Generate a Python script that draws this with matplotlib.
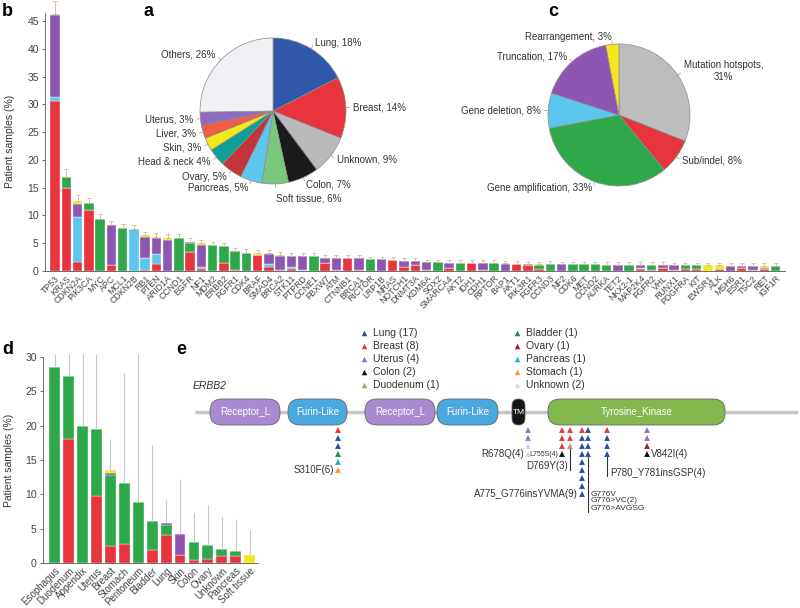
import numpy as np
import matplotlib.pyplot as plt
from matplotlib.patches import FancyBboxPatch

plt.rcParams['font.family'] = ['Liberation Sans', 'DejaVu Sans']

RED = '#e8343d'
CYAN = '#5cc6ee'
GREEN = '#2fa84a'
PURPLE = '#8e56b2'
YELLOW = '#f3e81c'
TEXT = '#333333'

# ---- panel a: tumour sites
site_labels = ['Lung, 18%', 'Breast, 14%', 'Unknown, 9%', 'Colon, 7%', 'Soft tissue, 6%',
               'Pancreas, 5%', 'Ovary, 5%', 'Head & neck 4%', 'Skin, 3%', 'Liver, 3%',
               'Uterus, 3%', 'Others, 26%']
site_share = [18, 14, 9, 7, 6, 5, 5, 4, 3, 3, 3, 26]
site_colors = ['#2f58a8', '#e8343d', '#b9b9b9', '#1b1b1b', '#7cc77c', '#5cc6ee',
               '#c1353b', '#0e9f98', '#f3e81c', '#f45b45', '#8e6cc0', '#f0f0f4']
site_label_dist = [1.1, 1.1, 1.1, 1.1, 1.2, 1.1, 1.1, 1.1, 1.1, 1.1, 1.1, 1.1]

# ---- panel c: alteration types
alt_labels = ['Mutation hotspots,\n31%', 'Sub/indel, 8%', 'Gene amplification, 33%',
              'Gene deletion, 8%', 'Truncation, 17%', 'Rearrangement, 3%']
alt_share = [31, 8, 33, 8, 17, 3]
alt_colors = ['#bdbdbd', RED, GREEN, CYAN, PURPLE, YELLOW]
alt_label_dist = [1.1, 1.1, 1.1, 1.1, 1.1, 1.1]

# ---- panel b: genes
genes = ['TP53', 'KRAS', 'CDKN2A', 'PIK3CA', 'MYC', 'APC', 'MCL1', 'CDKN2B', 'RB1', 'PTEN',
         'ARID1A', 'CCND1', 'EGFR', 'NF1', 'MDM2', 'ERBB2', 'FGFR1', 'CDK4', 'BRAF', 'SMAD4',
         'BRCA2', 'STK11', 'PTPRD', 'CCNE1', 'FBXW7', 'ATM', 'CTNNB1', 'BRCA1', 'RICTOR', 'LRP1B',
         'NRAS', 'NOTCH1', 'DNMT3A', 'KDM6A', 'SOX2', 'SMARCA4', 'AKT2', 'IDH1', 'CDH1', 'RPTOR',
         'BAP1', 'AKT1', 'PIK3R1', 'FGFR3', 'CCND3', 'NF2', 'CDK6', 'MET', 'CCND2', 'AURKA',
         'TET2', 'NKX2-1', 'MAP2K4', 'FGFR2', 'VHL', 'RUNX1', 'PDGFRA', 'KIT', 'EWSR1', 'ALK',
         'MSH6', 'ESR1', 'TSC2', 'RET', 'IGF1R']
b_red = [30.6, 15.0, 1.7, 11.0, 0, 1.0, 0, 0, 0.1, 1.2,
         0, 0, 3.4, 0.4, 0, 1.5, 0.15, 0, 2.9, 0.7,
         0.2, 0.4, 0, 0, 1.5, 0.2, 2.3, 0.1, 0, 0,
         2.0, 0.8, 1.1, 0.1, 0, 0.5, 0, 1.4, 0.1, 0,
         0, 1.25, 1.0, 0.3, 0, 0, 0, 0.05, 0, 0,
         0, 0, 0.3, 0.1, 0.6, 0.1, 0.4, 0.4, 0, 0.3,
         0, 0.6, 0.1, 0.4, 0]
b_cyan = [0.7, 0, 8.0, 0, 0, 0, 0, 7.5, 2.2, 1.9,
          0, 0, 0, 0.4, 0, 0, 0, 0, 0, 0.6,
          0, 0.4, 0.2, 0, 0, 0, 0, 0, 0, 0,
          0, 0, 0, 0, 0, 0, 0, 0, 0, 0,
          0, 0, 0, 0, 0, 0, 0, 0, 0, 0,
          0, 0, 0.2, 0, 0, 0, 0, 0, 0, 0,
          0, 0, 0, 0, 0]
b_green = [0, 2.0, 0, 1.2, 9.4, 0, 7.7, 0, 0, 0,
           0, 5.9, 1.6, 0, 4.6, 3.0, 3.45, 3.3, 0, 0,
           0, 0, 0, 2.7, 0, 0, 0, 0, 2.1, 0,
           0, 0, 0, 0, 1.55, 0, 1.4, 0, 0, 1.4,
           0, 0, 0, 0.8, 1.25, 0, 1.2, 1.15, 1.2, 1.15,
           0, 1.15, 0, 1.0, 0, 0, 0.6, 0.6, 0, 0,
           0, 0, 0, 0, 0.9]
b_purple = [14.7, 0, 2.3, 0, 0, 7.2, 0, 0, 3.8, 2.8,
            5.6, 0, 0.3, 3.9, 0, 0, 0, 0, 0, 1.8,
            2.5, 1.9, 2.5, 0, 0.9, 2.2, 0, 2.2, 0, 2.1,
            0, 1.0, 0.7, 1.45, 0, 0.9, 0, 0, 1.3, 0,
            1.2, 0, 0.2, 0, 0, 1.2, 0, 0, 0, 0,
            1.15, 0, 0.5, 0, 0.5, 0.9, 0, 0, 0, 0,
            0.95, 0.3, 0.8, 0.1, 0]
b_yellow = [0.3, 0, 0.6, 0, 0, 0, 0, 0, 0.3, 0.2,
            0.3, 0, 0, 0.3, 0, 0, 0, 0, 0.3, 0.1,
            0.2, 0, 0, 0, 0, 0, 0, 0, 0, 0,
            0, 0, 0, 0, 0, 0, 0, 0, 0, 0,
            0.15, 0, 0, 0.1, 0, 0, 0, 0, 0, 0,
            0, 0, 0.1, 0, 0, 0, 0, 0, 1.0, 0.7,
            0, 0, 0, 0.4, 0]
b_err = [2.2, 1.3, 1.1, 1.0, 0.9, 0.8, 0.8, 0.7, 0.7, 0.7,
         0.7, 0.7, 0.7, 0.6, 0.6, 0.6, 0.6, 0.6, 0.6, 0.6,
         0.6, 0.6, 0.6, 0.6, 0.5, 0.5, 0.5, 0.5, 0.5, 0.5,
         0.5, 0.5, 0.5, 0.5, 0.5, 0.5, 0.5, 0.5, 0.5, 0.5,
         0.5, 0.5, 0.5, 0.5, 0.5, 0.5, 0.5, 0.5, 0.5, 0.5,
         0.5, 0.5, 0.5, 0.5, 0.5, 0.5, 0.5, 0.5, 0.5, 0.5,
         0.5, 0.5, 0.5, 0.5, 0.5]

# ---- panel d: ERBB2 alterations by site
d_sites = ['Esophagus', 'Duodenum', 'Appendix', 'Uterus', 'Breast', 'Stomach', 'Peritoneum',
           'Bladder', 'Lung', 'Skin', 'Colon', 'Ovary', 'Unknown', 'Pancreas', 'Soft tissue']
d_red = [0, 18.0, 0, 9.7, 2.5, 2.8, 0, 1.85, 4.1, 1.2, 0.5, 0.6, 1.0, 1.0, 0]
d_green = [28.6, 9.3, 19.9, 9.75, 10.3, 8.8, 8.95, 4.2, 1.45, 0, 2.5, 2.0, 1.1, 0.7, 0]
d_purple = [0, 0, 0, 0, 0.3, 0, 0, 0, 0.25, 3.0, 0, 0, 0, 0, 0]
d_yellow = [0, 0, 0, 0, 0.4, 0, 0, 0, 0, 0, 0, 0, 0, 0, 1.1]
d_upper = [30.4, 30.4, 30.4, 30.4, 18.1, 27.6, 30.4, 17.2, 9.2, 12.2, 7.3, 8.4, 6.7, 6.4, 4.8]

# ---- panel e: ERBB2 protein map (diagram units)
tissues = ['Lung', 'Breast', 'Uterus', 'Colon', 'Duodenum',
           'Bladder', 'Ovary', 'Pancreas', 'Stomach', 'Unknown']
tissue_counts = [17, 8, 4, 2, 1, 1, 1, 1, 1, 2]
tissue_colors = ['#2b4fa6', '#e8343d', '#9b72c8', '#111111', '#b79d6c',
                 '#1f8a4c', '#a3202a', '#1bb3c9', '#f49a42', '#c9dcf0']
dom_names = ['Receptor_L', 'Furin-Like', 'Receptor_L', 'Furin-Like', 'TM', 'Tyrosine_Kinase']
dom_start = [210, 288, 365, 437, 512, 548]
dom_end = [280, 347, 435, 498, 525, 725]
dom_colors = ['#a88bd0', '#4aa8e0', '#a88bd0', '#4aa8e0', '#151515', '#85b84e']
prot_span = [195, 798]
mut_pos = [338, 528, 562, 570, 582, 588, 607, 647]
mut_hits = [['Breast', 'Lung', 'Lung', 'Bladder', 'Pancreas', 'Stomach'],
            ['Uterus', 'Uterus', 'Unknown', 'Unknown'],
            ['Breast', 'Breast', 'Breast', 'Colon'],
            ['Breast', 'Breast', 'Duodenum'],
            ['Breast', 'Lung', 'Lung', 'Lung', 'Lung', 'Lung', 'Lung', 'Lung', 'Lung'],
            ['Lung', 'Lung', 'Lung', 'Lung'],
            ['Breast', 'Lung', 'Lung', 'Lung'],
            ['Uterus', 'Uterus', 'Ovary', 'Colon']]

fig = plt.figure(figsize=(8, 6.08), dpi=100)


def px_axes(left, top, right, bottom):
    return fig.add_axes([left / 800, 1 - bottom / 608, (right - left) / 800, (bottom - top) / 608])


def style(ax):
    for s in ['top', 'right']:
        ax.spines[s].set_visible(False)
    for s in ['left', 'bottom']:
        ax.spines[s].set_color('#555555')
        ax.spines[s].set_linewidth(0.6)
    ax.tick_params(axis='y', length=2.5, width=0.6, color='#555555', labelsize=7.5,
                   labelcolor='#444444', pad=2)


# ---------------- panel b
ax_b = px_axes(45, 12.6, 785, 271)
x = np.arange(len(genes))
bottom = np.zeros(len(genes))
for vals, col in [(b_red, RED), (b_cyan, CYAN), (b_green, GREEN), (b_purple, PURPLE), (b_yellow, YELLOW)]:
    vals = np.array(vals)
    ax_b.bar(x, vals, 0.84, bottom=bottom, color=col, edgecolor='white', linewidth=0.25)
    bottom += vals
ax_b.errorbar(x, bottom, yerr=[np.zeros(len(genes)), b_err], fmt='none', ecolor='#cbb99a',
              elinewidth=0.6, capsize=1.2, capthick=0.6, clip_on=False, zorder=1)
ax_b.set_xlim(-0.89, 64.84)
ax_b.set_ylim(0, 46.5)
ax_b.set_yticks(np.arange(0, 46, 5))
ax_b.set_xticks(x, genes, rotation=45, ha='right', rotation_mode='anchor',
                fontsize=6.3, color='#444444')
ax_b.tick_params(axis='x', length=0, pad=2)
style(ax_b)
ax_b.set_ylabel('Patient samples (%)', fontsize=7.5, color=TEXT)
ax_b.yaxis.set_label_coords(-0.041, 0.5)

# ---------------- panel d
ax_d = px_axes(43, 357, 258, 563)
xd = np.arange(len(d_sites))
d_tot = np.array(d_red) + np.array(d_green) + np.array(d_purple) + np.array(d_yellow)
ax_d.vlines(xd, d_tot, d_upper, color='#c8c8c8', linewidth=0.8, zorder=0, clip_on=False)
bottom = np.zeros(len(d_sites))
for vals, col in [(d_red, RED), (d_green, GREEN), (d_purple, PURPLE), (d_yellow, YELLOW)]:
    vals = np.array(vals)
    ax_d.bar(xd, vals, 0.78, bottom=bottom, color=col, edgecolor='white', linewidth=0.25, zorder=2)
    bottom += vals
ax_d.set_xlim(-0.84, 14.6)
ax_d.set_ylim(0, 30)
ax_d.set_yticks(np.arange(0, 31, 5))
ax_d.set_xticks(xd, d_sites, rotation=45, ha='right', rotation_mode='anchor',
                fontsize=7, color='#444444')
ax_d.tick_params(axis='x', length=0, pad=2)
style(ax_d)
ax_d.set_ylabel('Patient samples (%)', fontsize=7.5, color=TEXT)
ax_d.yaxis.set_label_coords(-0.135, 0.5)


# ---------------- pies
def pie_panel(cx, cy, r, shares, labels, colors, dists):
    half = 100
    ax = px_axes(cx - half, cy - half, cx + half, cy + half)
    wedges, texts = ax.pie(shares, labels=labels, colors=colors, startangle=90, counterclock=False,
                           labeldistance=1.1,
                           wedgeprops=dict(edgecolor='#8c8c8c', linewidth=0.5),
                           textprops=dict(fontsize=7, color=TEXT))
    for w, t, d in zip(wedges, texts, dists):
        ang = np.deg2rad((w.theta1 + w.theta2) / 2)
        ax.plot([np.cos(ang) * 1.0, np.cos(ang) * 1.05], [np.sin(ang) * 1.0, np.sin(ang) * 1.05],
                color='#999999', linewidth=0.5)
        t.set_position((np.cos(ang) * d, np.sin(ang) * d))
        t.set_multialignment('center')
    ax.set_xlim(-half / r, half / r)
    ax.set_ylim(-half / r, half / r)
    ax.set_aspect('equal')
    return ax


pie_panel(273, 111, 73, site_share, site_labels, site_colors, site_label_dist)
pie_panel(619, 115, 71, alt_share, alt_labels, alt_colors, alt_label_dist)

# ---------------- panel e
ax_e = fig.add_axes([0, 0, 1, 1])
ax_e.set_xlim(0, 800)
ax_e.set_ylim(608, 0)
ax_e.axis('off')
tcol = dict(zip(tissues, tissue_colors))

ax_e.plot(prot_span, [412, 412], color='#c6c6c6', linewidth=2.5, solid_capstyle='butt', zorder=1)
for name, s, e, c in zip(dom_names, dom_start, dom_end, dom_colors):
    rs = min(12, (e - s) / 2)
    ax_e.add_patch(FancyBboxPatch((s, 399), e - s, 26, boxstyle=f'round,pad=0,rounding_size={rs}',
                                  facecolor=c, edgecolor='#666666', linewidth=0.6, zorder=2))
    ax_e.text((s + e) / 2, 412, name, color='white', fontsize=7 if name != 'TM' else 6,
              ha='center', va='center', zorder=3)
ax_e.text(193, 386, 'ERBB2', fontsize=7.5, style='italic', color=TEXT, va='center')

# legend
for i, (t, n) in enumerate(zip(tissues, tissue_counts)):
    lx = 364 if i < 5 else 517
    ly = 333 + 13 * (i % 5)
    ax_e.scatter(lx, ly, marker='^', s=16, color=tcol[t], linewidths=0)
    ax_e.text(lx + 9, ly, f'{t} ({n})', fontsize=7.5, color=TEXT, va='center')

# mutation stacks
step = 8
for pos, hits in zip(mut_pos, mut_hits):
    ys = 430 + step * np.arange(len(hits))
    ax_e.scatter([pos] * len(hits), ys, marker='^', s=18, c=[tcol[h] for h in hits],
                 linewidths=0, zorder=3)

lab = dict(fontsize=7, color=TEXT, va='center')
ax_e.text(mut_pos[0] - 4, 430 + step * 5, 'S310F(6)', ha='right', **lab)
ax_e.text(mut_pos[1] - 4, 430 + step * 3, 'R678Q(4)', ha='right', **lab)
ax_e.text(mut_pos[2] - 4, 430 + step * 3, 'L755S(4)', ha='right', fontsize=5, color=TEXT, va='center')
ax_e.plot([mut_pos[3], mut_pos[3]], [430 + step * 2 + 3, 470], color='#333333', linewidth=0.8)
ax_e.text(mut_pos[3] - 2, 466, 'D769Y(3)', ha='right', **lab)
ax_e.text(mut_pos[4] - 4, 430 + step * 8, 'A775_G776insYVMA(9)', ha='right', **lab)
ax_e.plot([mut_pos[5], mut_pos[5]], [430 + step * 3 + 3, 512], color='#333333', linewidth=0.8)
for k, t in enumerate(['G776V', 'G776>VC(2)', 'G776>AVGSG']):
    ax_e.text(mut_pos[5] + 3, 494 + 7 * k, t, ha='left', fontsize=6, color=TEXT, va='center')
ax_e.plot([mut_pos[6], mut_pos[6]], [430 + step * 3 + 3, 476], color='#333333', linewidth=0.8)
ax_e.text(mut_pos[6] + 3, 473, 'P780_Y781insGSP(4)', ha='left', **lab)
ax_e.text(mut_pos[7] + 4, 430 + step * 3, 'V842I(4)', ha='left', **lab)

# panel letters
for letter, lx, ly in [('b', 2, 12), ('a', 143, 12), ('c', 548, 12), ('d', 2, 350), ('e', 176, 350)]:
    fig.text(lx / 800, 1 - ly / 608, letter, fontsize=13, fontweight='bold', va='center', ha='left')

fig.savefig('out.png', dpi=100)
